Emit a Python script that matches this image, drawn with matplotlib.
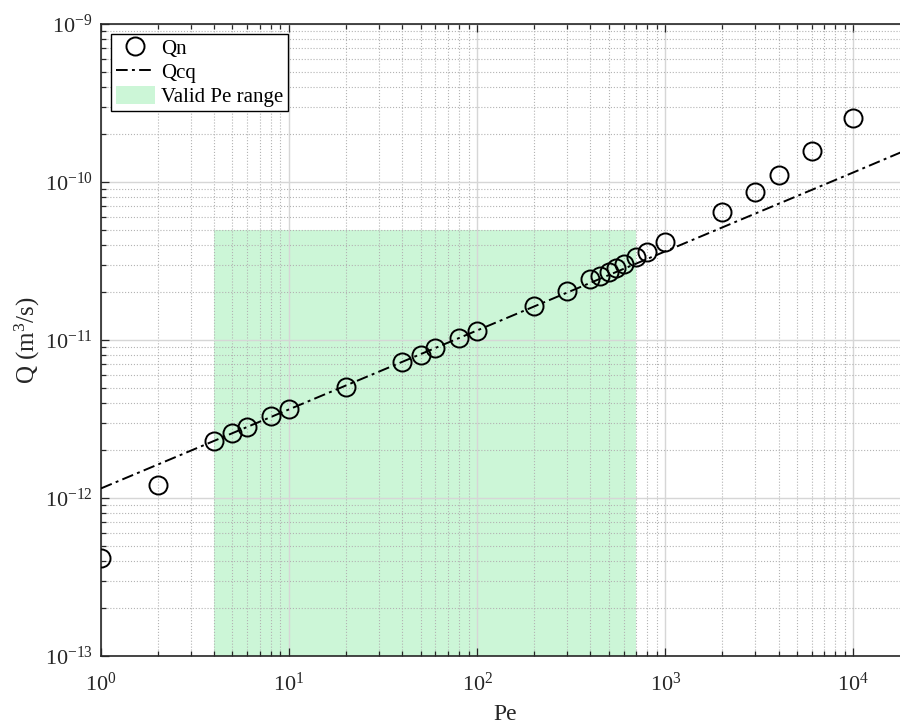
import matplotlib
matplotlib.use('Agg')
import matplotlib.pyplot as plt

plt.rcParams['font.family'] = ['Liberation Serif', 'DejaVu Serif']
plt.rcParams['mathtext.fontset'] = 'custom'
plt.rcParams['mathtext.rm'] = 'Liberation Serif'
plt.rcParams['mathtext.it'] = 'Liberation Serif:italic'
plt.rcParams['mathtext.bf'] = 'Liberation Serif:bold'

# Numerical results (Qn)
pe_n = [1, 2, 4, 5, 6, 8, 10, 20, 40, 50, 60, 80, 100, 200, 300, 400, 450,
        500, 550, 600, 700, 800, 1000, 2000, 3000, 4000, 6000, 10000]
q_n = [4.19e-13, 1.20e-12, 2.29e-12, 2.59e-12, 2.81e-12, 3.30e-12, 3.64e-12,
       5.06e-12, 7.29e-12, 8.04e-12, 8.94e-12, 1.03e-11, 1.14e-11, 1.64e-11,
       2.05e-11, 2.42e-11, 2.53e-11, 2.69e-11, 2.85e-11, 3.02e-11, 3.33e-11,
       3.60e-11, 4.16e-11, 6.49e-11, 8.70e-11, 1.10e-10, 1.56e-10, 2.53e-10]

# Qcq line
pe_cq = [1, 10, 100, 1000, 10000, 20000]
q_cq = [1.15e-12, 3.64e-12, 1.15e-11, 3.64e-11, 1.15e-10, 1.63e-10]

# Valid Pe range
valid_pe = [4, 700]
valid_q_low = 1e-13
valid_q_high = 5e-11

fig = plt.figure(figsize=(9.0, 7.24), dpi=100)
ax = fig.add_axes([101/900, 68/724, 809/900, 632/724])

h_fill = ax.fill_between(valid_pe, valid_q_low, valid_q_high, color='#ccf6d7',
                         linewidth=0, zorder=1, label='Valid Pe range')
h_cq, = ax.plot(pe_cq, q_cq, color='black', linestyle=(0, (6, 2.2, 1.5, 2.2)),
                linewidth=1.4, zorder=3, label='Qcq')
h_n, = ax.plot(pe_n, q_n, linestyle='none', marker='o', markersize=13,
               markerfacecolor='none', markeredgecolor='black',
               markeredgewidth=1.4, zorder=4, label='Qn')

ax.set_xscale('log')
ax.set_yscale('log')
ax.set_xlim(1, 2e4)
ax.set_ylim(1e-13, 1e-9)

ax.set_axisbelow('line')
ax.grid(which='major', color='#d6d6d6', linestyle='-', linewidth=1.0)
ax.grid(which='minor', color='#b3b3b3', linestyle=':', linewidth=0.8)

for s in ax.spines.values():
    s.set_color('#262626')
    s.set_linewidth(1.2)

ax.tick_params(which='both', direction='in', top=True, right=True,
               colors='#262626', labelcolor='#262626', width=0.9)
ax.tick_params(which='major', length=6, labelsize=16)
ax.tick_params(which='minor', length=3.5)
ax.tick_params(axis='x', which='major', pad=12)
ax.tick_params(axis='y', which='major', pad=6)

ax.set_xlabel('Pe', fontsize=17, labelpad=6, color='#262626')
ax.set_ylabel('Q (m$^{\\mathdefault{3}}$/s)', fontsize=18, labelpad=2,
              color='#262626')

leg = ax.legend(handles=[h_n, h_cq, h_fill], loc='upper left', fontsize=15,
                frameon=True, fancybox=False, edgecolor='black', framealpha=1,
                borderaxespad=0.5, borderpad=0.2, handlelength=1.9,
                handletextpad=0.3, labelspacing=0.15, handleheight=0.9)
leg.get_frame().set_linewidth(1.0)

fig.savefig('out.png', dpi=100)
